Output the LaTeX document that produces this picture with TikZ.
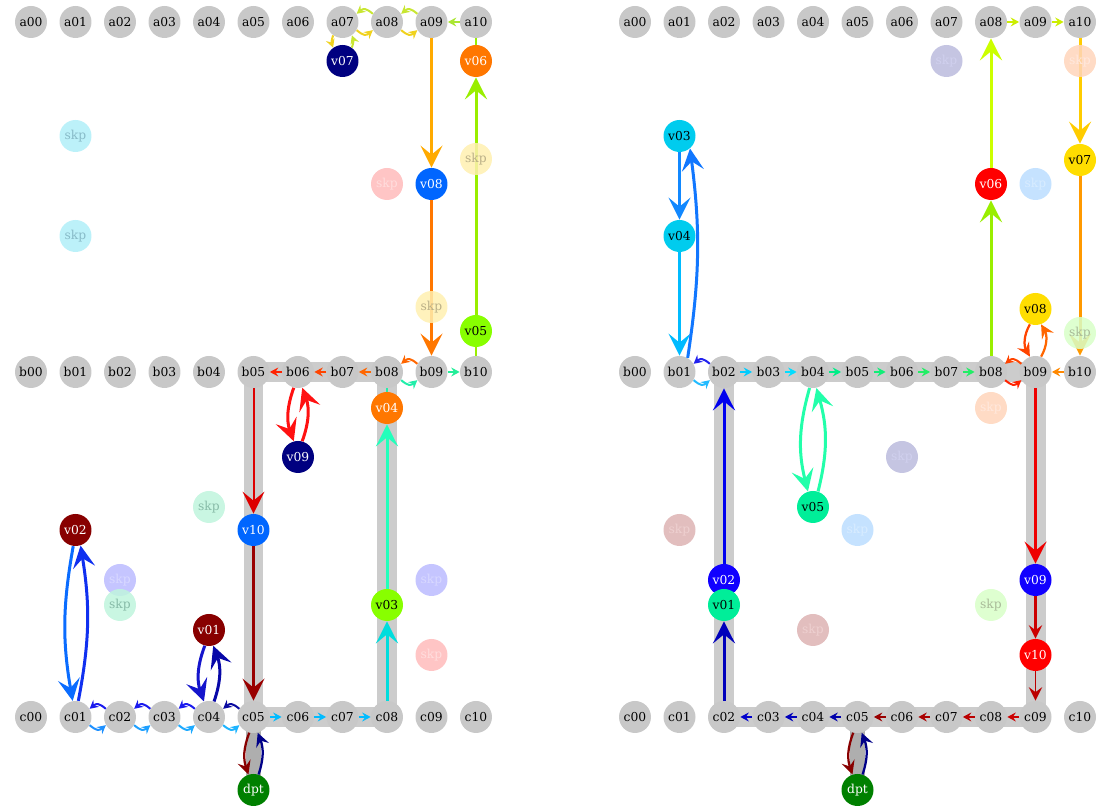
\documentclass[tikz,border=0pt]{standalone}
\usepackage{fontspec}
\setmainfont{DejaVu Serif}
\usetikzlibrary{arrows.meta}
\pgfdeclarelayer{bg}
\pgfsetlayers{bg,main}
% grid / bars
\definecolor{nodegray}{HTML}{C8C8C8}
\definecolor{bargray}{HTML}{CCCCCC}
\definecolor{dptgray}{HTML}{AEAEAE}
% node fills
\definecolor{vNavy}{HTML}{000080}
\definecolor{vOrange}{HTML}{FF7700}
\definecolor{vAzure}{HTML}{0066FF}
\definecolor{vChart}{HTML}{88FF00}
\definecolor{vMaroon}{HTML}{880000}
\definecolor{vGreen}{HTML}{008000}
\definecolor{vCyan}{HTML}{00CCEE}
\definecolor{vRed}{HTML}{FF0000}
\definecolor{vGold}{HTML}{FFDD00}
\definecolor{vSpring}{HTML}{00EE99}
\definecolor{vBlue}{HTML}{1100FF}
% skp colours
\definecolor{sCyan}{HTML}{B0EEF8}\definecolor{tCyan}{HTML}{88BBC8}
\definecolor{sPink}{HTML}{FFBBBB}\definecolor{tPink}{HTML}{FFDDDD}
\definecolor{sYel}{HTML}{FFF0B0}\definecolor{tYel}{HTML}{BBB088}
\definecolor{sMint}{HTML}{BFF5DD}\definecolor{tMint}{HTML}{88BBA8}
\definecolor{sLav}{HTML}{BBBBFF}\definecolor{tLav}{HTML}{D8D8FF}
\definecolor{sLav2}{HTML}{BBBBDD}\definecolor{tLav2}{HTML}{D0D0EE}
\definecolor{sPeach}{HTML}{FFD5BB}\definecolor{tPeach}{HTML}{FFE8DD}
\definecolor{sSky}{HTML}{BBDDFF}\definecolor{tSky}{HTML}{D8ECFF}
\definecolor{sLGr}{HTML}{D8FFC8}\definecolor{tLGr}{HTML}{AABB99}
\definecolor{sRose}{HTML}{DDB3B3}\definecolor{tRose}{HTML}{EED0D0}
% edge colours left
\definecolor{lYG}{HTML}{C8E632}
\definecolor{lY}{HTML}{F0D21E}
\definecolor{lYG2}{HTML}{AAE632}
\definecolor{lOr}{HTML}{FFAA00}
\definecolor{lOr2}{HTML}{FF7700}
\definecolor{lLawn}{HTML}{99EE00}
\definecolor{lR1}{HTML}{FF2200}
\definecolor{lR2}{HTML}{FF4400}
\definecolor{lR3}{HTML}{FF6600}
\definecolor{lSG}{HTML}{22EEAA}
\definecolor{lSG2}{HTML}{22EE99}
\definecolor{lRed}{HTML}{FF1111}
\definecolor{lR4}{HTML}{DD0000}
\definecolor{lDR}{HTML}{990000}
\definecolor{lCy}{HTML}{00DDDD}
\definecolor{lAq}{HTML}{22FFBB}
\definecolor{lT1}{HTML}{1A1AEE}
\definecolor{lT4}{HTML}{0A0AA0}
\definecolor{lB1}{HTML}{1E90FF}
\definecolor{lB2}{HTML}{1EA0FF}
\definecolor{lB3}{HTML}{1EAAFF}
\definecolor{lB4}{HTML}{1EB4FF}
\definecolor{lSky}{HTML}{00BBFF}
\definecolor{lDod}{HTML}{0A6CFF}
\definecolor{lBl}{HTML}{1030F0}
\definecolor{lV1}{HTML}{1515CC}
\definecolor{lV2}{HTML}{0808A8}
\definecolor{dRed}{HTML}{880000}
\definecolor{dNavy}{HTML}{000088}
% edge colours right
\definecolor{rYG}{HTML}{CCEE00}
\definecolor{rYG2}{HTML}{CCFF00}
\definecolor{rLawn}{HTML}{99EE00}
\definecolor{rGold}{HTML}{FFCC00}
\definecolor{rOr}{HTML}{FF9900}
\definecolor{rOr2}{HTML}{FF8800}
\definecolor{rOR1}{HTML}{FF4400}
\definecolor{rOR2}{HTML}{FF6600}
\definecolor{rR0}{HTML}{FF2200}
\definecolor{rR1}{HTML}{EE0000}
\definecolor{rR2}{HTML}{CC0000}
\definecolor{rR3}{HTML}{BB0000}
\definecolor{rR4}{HTML}{AA0000}
\definecolor{rR5}{HTML}{990000}
\definecolor{rB1}{HTML}{0000AA}
\definecolor{rB2}{HTML}{0000BB}
\definecolor{rB3}{HTML}{0000CC}
\definecolor{rB4}{HTML}{0000EE}
\definecolor{rT}{HTML}{2222EE}
\definecolor{rBt}{HTML}{22BBFF}
\definecolor{rC1}{HTML}{00CCFF}
\definecolor{rC2}{HTML}{00DDFF}
\definecolor{rG1}{HTML}{00EE88}
\definecolor{rG2}{HTML}{11EE77}
\definecolor{rG3}{HTML}{22EE66}
\definecolor{rDod}{HTML}{1188FF}
\definecolor{rDod2}{HTML}{1177FF}
\definecolor{rSky}{HTML}{00BBFF}
\definecolor{rAq}{HTML}{22FFAA}
\begin{document}
\begin{tikzpicture}[x=0.02cm,y=0.02cm,
  every node/.style={font=\fontsize{7}{8}\selectfont},
  gnode/.style={circle,fill=nodegray,minimum size=0.64cm,inner sep=0pt,text=black},
  vnode/.style 2 args={circle,fill=#1,text=#2,minimum size=0.64cm,inner sep=0pt},
  skp/.style 2 args={circle,fill=#1,text=#2,fill opacity=0.85,text opacity=1,minimum size=0.64cm,inner sep=0pt},
  bar/.style={line width=0.4cm,draw=bargray},
  big/.style={line width=0.06cm,-{Stealth[length=0.44cm,width=0.44cm,inset=0.18cm]}},
  med/.style={line width=0.045cm,-{Stealth[length=0.27cm,width=0.27cm,inset=0.1cm]}},
  sm/.style={line width=0.04cm,-{Stealth[length=0.17cm,width=0.18cm,inset=0.06cm]}},
  tick/.style={line width=0.05cm},
  arcT/.style={out=140,in=40,looseness=1.4},
  arcB/.style={out=-40,in=-140,looseness=1.4}]
\useasboundingbox (0,0) rectangle (1100,807);
% grid nodes
\foreach \n [count=\i from 0] in {00,01,02,03,04,05,06,07,08,09,10}{
  \node[gnode] (La\n) at ({31+44.5*\i},785) {a\n};
  \node[gnode] (Lb\n) at ({31+44.5*\i},435) {b\n};
  \node[gnode] (Lc\n) at ({31+44.5*\i},90) {c\n};
  \node[gnode] (Ra\n) at ({635+44.5*\i},785) {a\n};
  \node[gnode] (Rb\n) at ({635+44.5*\i},435) {b\n};
  \node[gnode] (Rc\n) at ({635+44.5*\i},90) {c\n};
}
% left vehicle nodes
\node[vnode={vNavy}{white}] (Lv07) at (342.5,746) {v07};
\node[vnode={vOrange}{white}] (Lv06) at (476,746) {v06};
\node[vnode={vAzure}{white}] (Lv08) at (431.5,623) {v08};
\node[vnode={vChart}{black}] (Lv05) at (476,476) {v05};
\node[vnode={vOrange}{white}] (Lv04) at (387,399) {v04};
\node[vnode={vNavy}{white}] (Lv09) at (298,350) {v09};
\node[vnode={vMaroon}{white}] (Lv02) at (75.5,277) {v02};
\node[vnode={vAzure}{white}] (Lv10) at (253.5,277) {v10};
\node[vnode={vChart}{black}] (Lv03) at (387,202) {v03};
\node[vnode={vMaroon}{white}] (Lv01) at (209,177) {v01};
\node[vnode={vGreen}{white}] (Ldpt) at (253.5,17) {dpt};
% right vehicle nodes
\node[vnode={vCyan}{black}] (Rv03) at (679.5,671) {v03};
\node[vnode={vCyan}{black}] (Rv04) at (679.5,571) {v04};
\node[vnode={vRed}{white}] (Rv06) at (991,623) {v06};
\node[vnode={vGold}{black}] (Rv07) at (1080,647) {v07};
\node[vnode={vGold}{black}] (Rv08) at (1035.5,498) {v08};
\node[vnode={vSpring}{black}] (Rv05) at (813,300) {v05};
\node[vnode={vBlue}{white}] (Rv02) at (724,227) {v02};
\node[vnode={vSpring}{black}] (Rv01) at (724,202) {v01};
\node[vnode={vBlue}{white}] (Rv09) at (1035.5,227) {v09};
\node[vnode={vRed}{white}] (Rv10) at (1035.5,152) {v10};
\node[vnode={vGreen}{white}] (Rdpt) at (857.5,17) {dpt};
% gray bars
\begin{pgfonlayer}{bg}
\foreach \p/\q in {Lb05/Lb06,Lb06/Lb07,Lb07/Lb08,Lb05/Lc05,Lb08/Lc08,Lc05/Lc06,Lc06/Lc07,Lc07/Lc08,
  Rb02/Rb03,Rb03/Rb04,Rb04/Rb05,Rb05/Rb06,Rb06/Rb07,Rb07/Rb08,Rb08/Rb09,Rb02/Rc02,Rb09/Rc09,
  Rc02/Rc03,Rc03/Rc04,Rc04/Rc05,Rc05/Rc06,Rc06/Rc07,Rc07/Rc08,Rc08/Rc09}
  \draw[bar] (\p.center) -- (\q.center);
\draw[line width=0.3cm,draw=dptgray] (Lc05.center) -- (Ldpt.center);
\draw[line width=0.3cm,draw=dptgray] (Rc05.center) -- (Rdpt.center);
\end{pgfonlayer}
% ---------- left edges ----------
\draw[sm,lYG] (La08.150) to[arcT] (La07.30);
\draw[sm,lY] (La07.-30) to[arcB] (La08.210);
\draw[sm,lYG] (La09.150) to[arcT] (La08.30);
\draw[sm,lY] (La08.-30) to[arcB] (La09.210);
\draw[sm,lYG2] (La10) -- (La09);
\draw[sm,lY] (La07.235) to[bend right=20] (Lv07.125);
\draw[sm,lYG] (Lv07.55) to[bend right=20] (La07.305);
\draw[big,lOr] (La09) -- (Lv08);
\draw[big,lOr2] (Lv08) -- (Lb09);
\draw[big,lLawn] (Lv05) -- (Lv06);
\draw[tick,lLawn] (Lv06) -- (La10);
\draw[tick,lLawn] (Lb10) -- (Lv05);
\draw[sm,lR1] (Lb06) -- (Lb05);
\draw[sm,lR2] (Lb07) -- (Lb06);
\draw[sm,lR3] (Lb08) -- (Lb07);
\draw[sm,lR3] (Lb09.150) to[arcT] (Lb08.30);
\draw[sm,lSG] (Lb08.-30) to[arcB] (Lb09.210);
\draw[sm,lSG2] (Lb09) -- (Lb10);
\draw[big,lRed] (Lb06.255) to[bend right=20] (Lv09.105);
\draw[big,lRed] (Lv09.75) to[bend right=20] (Lb06.285);
\draw[big,lR4,line width=0.04cm] (Lb05) -- (Lv10);
\draw[big,lDR] (Lv10) -- (Lc05);
\draw[big,lCy] (Lc08) -- (Lv03);
\draw[big,lAq] (Lv03) -- (Lv04);
\draw[tick,lSG] (Lv04) -- (Lb08);
\draw[sm,lT1] (Lc02.150) to[arcT] (Lc01.30);
\draw[sm,lT1] (Lc03.150) to[arcT] (Lc02.30);
\draw[sm,lT1] (Lc04.150) to[arcT] (Lc03.30);
\draw[sm,lT4] (Lc05.150) to[arcT] (Lc04.30);
\draw[sm,lB1] (Lc01.-30) to[arcB] (Lc02.210);
\draw[sm,lB2] (Lc02.-30) to[arcB] (Lc03.210);
\draw[sm,lB3] (Lc03.-30) to[arcB] (Lc04.210);
\draw[sm,lB4] (Lc04.-30) to[arcB] (Lc05.210);
\draw[sm,lSky] (Lc05) -- (Lc06);
\draw[sm,lSky] (Lc06) -- (Lc07);
\draw[sm,lSky] (Lc07) -- (Lc08);
\draw[big,lDod] (Lv02.262) to[bend right=10] (Lc01.100);
\draw[big,lBl] (Lc01.80) to[bend right=10] (Lv02.288);
\draw[big,lV1] (Lv01.255) to[bend right=20] (Lc04.108);
\draw[big,lV2] (Lc04.72) to[bend right=20] (Lv01.285);
\draw[med,dRed] (Lc05.255) to[bend right=20] (Ldpt.108);
\draw[med,dNavy] (Ldpt.72) to[bend right=20] (Lc05.285);
% ---------- right edges ----------
\draw[sm,rYG] (Ra08) -- (Ra09);
\draw[sm,rYG] (Ra09) -- (Ra10);
\draw[big,rYG2] (Rv06) -- (Ra08);
\draw[big,rLawn] (Rb08) -- (Rv06);
\draw[big,rGold] (Ra10) -- (Rv07);
\draw[big,rOr] (Rv07) -- (Rb10);
\draw[sm,rOr2] (Rb10) -- (Rb09);
\draw[med,rOR1] (Rv08.250) to[bend right=30] (Rb09.110);
\draw[med,rOR2] (Rb09.70) to[bend right=30] (Rv08.290);
\draw[sm,rOR1] (Rb09.150) to[arcT] (Rb08.30);
\draw[sm,rR0] (Rb08.-30) to[arcB] (Rb09.210);
\draw[big,rR1] (Rb09) -- (Rv09);
\draw[med,rR2] (Rv09) -- (Rv10);
\draw[med,rR3,line width=0.035cm] (Rv10) -- (Rc09);
\draw[sm,rR2] (Rc09) -- (Rc08);
\draw[sm,rR3] (Rc08) -- (Rc07);
\draw[sm,rR4] (Rc07) -- (Rc06);
\draw[sm,rR5] (Rc06) -- (Rc05);
\draw[sm,rB1] (Rc05) -- (Rc04);
\draw[sm,rB2] (Rc04) -- (Rc03);
\draw[sm,rB3] (Rc03) -- (Rc02);
\draw[med,dRed] (Rc05.255) to[bend right=20] (Rdpt.108);
\draw[med,dNavy] (Rdpt.72) to[bend right=20] (Rc05.285);
\draw[big,rB2] (Rc02) -- (Rv01);
\draw[big,rB4] (Rv02) -- (Rb02);
\draw[sm,rT] (Rb02.150) to[arcT] (Rb01.30);
\draw[sm,rBt] (Rb01.-30) to[arcB] (Rb02.210);
\draw[sm,rC1] (Rb02) -- (Rb03);
\draw[sm,rC2] (Rb03) -- (Rb04);
\draw[sm,rG1] (Rb04) -- (Rb05);
\draw[sm,rG2] (Rb05) -- (Rb06);
\draw[sm,rG3] (Rb06) -- (Rb07);
\draw[sm,rG3] (Rb07) -- (Rb08);
\draw[big,rDod] (Rv03) -- (Rv04);
\draw[big,rSky] (Rv04) -- (Rb01);
\draw[big,rDod2] (Rb01.60) to[bend right=8] (Rv03.-50);
\draw[big,rAq] (Rb04.258) to[bend right=15] (Rv05.108);
\draw[big,rAq] (Rv05.72) to[bend right=15] (Rb04.282);
% ---------- skp nodes ----------
\node[skp={sCyan}{tCyan}] (Ls1) at (75.5,671) {skp};
\node[skp={sCyan}{tCyan}] (Ls2) at (75.5,571) {skp};
\node[skp={sPink}{tPink}] (Ls3) at (387,623) {skp};
\node[skp={sYel}{tYel}] (Ls4) at (476,648) {skp};
\node[skp={sYel}{tYel}] (Ls5) at (431.5,500) {skp};
\node[skp={sMint}{tMint}] (Ls6) at (209,300) {skp};
\node[skp={sLav}{tLav}] (Ls7) at (120,227) {skp};
\node[skp={sMint}{tMint}] (Ls8) at (120,202) {skp};
\node[skp={sLav}{tLav}] (Ls9) at (431.5,227) {skp};
\node[skp={sPink}{tPink}] (Ls10) at (431.5,152) {skp};
\node[skp={sLav2}{tLav2}] (Rs1) at (946.5,746) {skp};
\node[skp={sPeach}{tPeach}] (Rs2) at (1080,746) {skp};
\node[skp={sSky}{tSky}] (Rs3) at (1035.5,623) {skp};
\node[skp={sLGr}{tLGr}] (Rs4) at (1080,474) {skp};
\node[skp={sPeach}{tPeach}] (Rs5) at (991,399) {skp};
\node[skp={sLav2}{tLav2}] (Rs6) at (902,350) {skp};
\node[skp={sSky}{tSky}] (Rs7) at (857.5,277) {skp};
\node[skp={sRose}{tRose}] (Rs8) at (679.5,277) {skp};
\node[skp={sLGr}{tLGr}] (Rs9) at (991,202) {skp};
\node[skp={sRose}{tRose}] (Rs10) at (813,177) {skp};
\end{tikzpicture}
\end{document}
